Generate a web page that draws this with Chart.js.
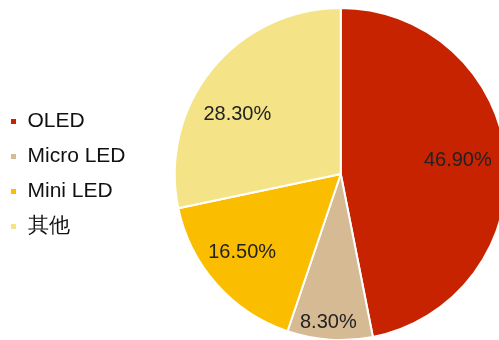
<!DOCTYPE html>
<html>
<head>
<meta charset="utf-8">
<script src="https://cdn.jsdelivr.net/npm/chart.js@4/dist/chart.umd.min.js"></script>
<style>
  html, body { margin: 0; padding: 0; background: #fff; overflow: hidden; }
  #wrap { position: relative; left: -4px; width: 550px; height: 352px; }
</style>
</head>
<body>
<div id="wrap"><canvas id="myChart"></canvas></div>
<script>
var categories = ['OLED', 'Micro LED', 'Mini LED', '其他'];
var shares = [46.9, 8.3, 16.5, 28.3];
var sliceColors = ['#c82300', '#d5ba93', '#fbbd00', '#f5e487'];
// where each percent label sits: fraction of radius, small angle nudge (deg)
var labelRadius = [0.71, 0.9, 0.76, 0.72];
var labelNudge = [-1, 1, 3, -9];

var sliceLabels = {
    id: 'sliceLabels',
    afterDatasetsDraw: function(chart) {
        var ctx = chart.ctx;
        var meta = chart.getDatasetMeta(0);
        ctx.save();
        ctx.font = '20px "Liberation Sans", Arial, sans-serif';
        ctx.fillStyle = '#222';
        ctx.textAlign = 'center';
        ctx.textBaseline = 'middle';
        meta.data.forEach(function(arc, i) {
            var mid = (arc.startAngle + arc.endAngle) / 2 + labelNudge[i] * Math.PI / 180;
            var x = arc.x + Math.cos(mid) * arc.outerRadius * labelRadius[i];
            var y = arc.y + Math.sin(mid) * arc.outerRadius * labelRadius[i];
            ctx.fillText(shares[i].toFixed(2) + '%', x, y);
        });
        ctx.restore();
    }
};

var ctx = document.getElementById('myChart').getContext('2d');
window.myPie = new Chart(ctx, {
    type: 'pie',
    data: {
        labels: categories,
        datasets: [{
            data: shares,
            backgroundColor: sliceColors,
            borderColor: '#fff',
            borderWidth: 2
        }]
    },
    options: {
        responsive: true,
        maintainAspectRatio: false,
        animation: false,
        layout: { padding: { left: 0, top: 7, bottom: 11, right: 0 } },
        plugins: {
            tooltip: { enabled: false },
            legend: {
                position: 'left',
                labels: {
                    boxWidth: 7,
                    boxHeight: 7,
                    padding: 14,
                    color: '#111',
                    font: { size: 21, family: '"Liberation Sans", Arial, sans-serif' }
                }
            }
        }
    },
    plugins: [sliceLabels]
});
</script>
</body>
</html>
